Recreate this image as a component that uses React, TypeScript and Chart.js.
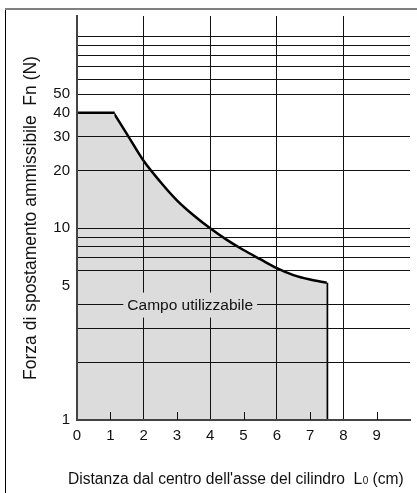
import React, { useEffect, useRef } from "react";
import { Chart, registerables } from "chart.js";

Chart.register(...registerables);

// ---- data ----
const plateauDistance = [0, 1.13];
const plateauForce = [40, 40];
const curveDistance = [1.1, 1.5, 2, 2.5, 3, 3.5, 4, 4.5, 5, 5.5, 6, 6.5, 7, 7.5];
const curveForce = [40, 31, 22.5, 17.5, 14, 11.7, 10, 8.7, 7.7, 6.9, 6.2, 5.7, 5.4, 5.2];
const dropDistance = [7.5, 7.5];
const dropForce = [5.2, 1];

// ---- axes ----
const xMin = 0;
const xMax = 10;
const xTickValues = [0, 1, 2, 3, 4, 5, 6, 7, 8, 9, 10];
const xLabelValues = [0, 1, 2, 3, 4, 5, 6, 7, 8, 9];
const xGridValues = [2, 4, 6, 8];
const xMinorTickValues = [1, 3, 5, 7, 9];
const yMin = 1;
const yMax = 128;
const yTickValues = [1, 2, 3, 4, 5, 6, 7, 8, 9, 10, 20, 30, 40, 50, 60, 70, 80, 90, 100];
const yLabelValues = [1, 5, 10, 20, 30, 40, 50];
const yGridValues = [2, 3, 4, 6, 7, 8, 9, 10, 20, 30, 50, 60, 70, 80, 90, 100];

// ---- texts ----
const yTitle = "Forza di spostamento ammissibile  Fn (N)";
const xTitleMain = "Distanza dal centro dell'asse del cilindro  L";
const xTitleSub = "0";
const xTitleEnd = " (cm)";
const fieldLabel = "Campo utilizzabile";
const fieldLabelDistance = 3.4;
const fieldLabelForce = 4;

const FONT = '"Liberation Sans", Arial, Helvetica, sans-serif';
const FILL = "#dcdcdc";
const INK = "#111111";
const NONE = "rgba(0,0,0,0)";

const toPoints = (xs: number[], ys: number[]) => xs.map((x, i) => ({ x, y: ys[i] }));

const decorPlugin = {
  id: "decor",
  afterDraw(chart: any) {
    const { ctx, scales } = chart;
    const xs = scales.x;
    const ys = scales.y;
    ctx.save();

    // short ticks on the x axis (inside the plot)
    const yb = ys.getPixelForValue(yMin);
    ctx.strokeStyle = INK;
    ctx.lineWidth = 1;
    xMinorTickValues.forEach((v) => {
      const px = Math.round(xs.getPixelForValue(v)) + 0.5;
      ctx.beginPath();
      ctx.moveTo(px, yb);
      ctx.lineTo(px, yb - 8);
      ctx.stroke();
    });

    // field label with a box that interrupts the grid
    const lx = xs.getPixelForValue(fieldLabelDistance);
    const ly = ys.getPixelForValue(fieldLabelForce);
    ctx.font = `15.5px ${FONT}`;
    const w = ctx.measureText(fieldLabel).width;
    ctx.fillStyle = FILL;
    ctx.fillRect(lx - w / 2 - 4, ly - 12, w + 8, 25);
    ctx.fillStyle = INK;
    ctx.textAlign = "center";
    ctx.textBaseline = "middle";
    ctx.fillText(fieldLabel, lx, ly + 1);

    // x axis title with small "0"
    const big = `15.6px ${FONT}`;
    const small = `10px ${FONT}`;
    ctx.textAlign = "left";
    ctx.textBaseline = "alphabetic";
    ctx.font = big;
    const w1 = ctx.measureText(xTitleMain).width;
    ctx.font = small;
    const w2 = ctx.measureText(xTitleSub).width;
    let tx = 68;
    const ty = 484;
    ctx.font = big;
    ctx.fillText(xTitleMain, tx, ty);
    tx += w1 + 0.5;
    ctx.font = small;
    ctx.fillText(xTitleSub, tx, ty);
    tx += w2;
    ctx.font = big;
    ctx.fillText(xTitleEnd, tx, ty);

    // outer frame (left and top edges)
    ctx.strokeStyle = "#000";
    ctx.lineWidth = 1;
    ctx.beginPath();
    ctx.moveTo(5.5, 9);
    ctx.lineTo(5.5, chart.height);
    ctx.stroke();
    ctx.strokeStyle = "#808080";
    ctx.lineWidth = 2;
    ctx.beginPath();
    ctx.moveTo(5, 9);
    ctx.lineTo(chart.width, 9);
    ctx.stroke();

    ctx.restore();
  },
};

export default function App() {
  const ref = useRef<HTMLCanvasElement | null>(null);

  useEffect(() => {
    document.body.style.margin = "0";
    const canvas = ref.current;
    if (!canvas) return;
    const chart = new Chart(canvas, {
      type: "line",
      data: {
        datasets: [
          {
            data: toPoints(plateauDistance, plateauForce),
            borderColor: "#000",
            borderWidth: 2.5,
            backgroundColor: FILL,
            fill: "start",
            pointRadius: 0,
            tension: 0,
          },
          {
            data: toPoints(curveDistance, curveForce),
            borderColor: "#000",
            borderWidth: 2.5,
            backgroundColor: FILL,
            fill: "start",
            pointRadius: 0,
            cubicInterpolationMode: "monotone",
          },
          {
            data: toPoints(dropDistance, dropForce),
            borderColor: "#000",
            borderWidth: 3,
            fill: false,
            pointRadius: 0,
            tension: 0,
          },
        ],
      },
      options: {
        responsive: false,
        devicePixelRatio: 1,
        animation: false,
        layout: { padding: { top: 9, right: 3, left: 0, bottom: 0 } },
        plugins: { legend: { display: false }, tooltip: { enabled: false } },
        scales: {
          x: {
            type: "linear",
            min: xMin,
            max: xMax,
            z: 1,
            afterBuildTicks: (s: any) => {
              s.ticks = xTickValues.map((v) => ({ value: v }));
            },
            afterFit: (s: any) => {
              s.height = 73;
            },
            grid: {
              z: 1,
              color: (c: any) => (c.tick && xGridValues.includes(c.tick.value) ? INK : NONE),
              lineWidth: 1,
              drawTicks: false,
            },
            border: { display: true, color: "#444", width: 2, z: 1 },
            ticks: {
              autoSkip: false,
              maxRotation: 0,
              padding: 7,
              color: INK,
              font: { family: FONT, size: 15 },
              callback: (v: any) => (xLabelValues.includes(Number(v)) ? String(v) : ""),
            },
          },
          y: {
            type: "logarithmic",
            min: yMin,
            max: yMax,
            z: 1,
            afterBuildTicks: (s: any) => {
              s.ticks = yTickValues.map((v) => ({ value: v }));
            },
            afterFit: (s: any) => {
              s.width = 77;
            },
            grid: {
              z: 1,
              color: (c: any) => (c.tick && yGridValues.includes(c.tick.value) ? INK : NONE),
              lineWidth: 1,
              drawTicks: false,
            },
            border: { display: true, color: "#444", width: 2, z: 1 },
            ticks: {
              autoSkip: false,
              padding: 7,
              color: INK,
              font: { family: FONT, size: 15 },
              callback: (v: any) => (yLabelValues.includes(Number(v)) ? String(v) : ""),
            },
            title: {
              display: true,
              text: yTitle,
              color: INK,
              font: { family: FONT, size: 17.5 },
              padding: { top: 20.5, bottom: 0 },
            },
          },
        },
      },
      plugins: [decorPlugin],
    } as any);
    return () => chart.destroy();
  }, []);

  return (
    <canvas
      ref={ref}
      width={417}
      height={493}
      style={{ display: "block", width: 417, height: 493 }}
    />
  );
}
